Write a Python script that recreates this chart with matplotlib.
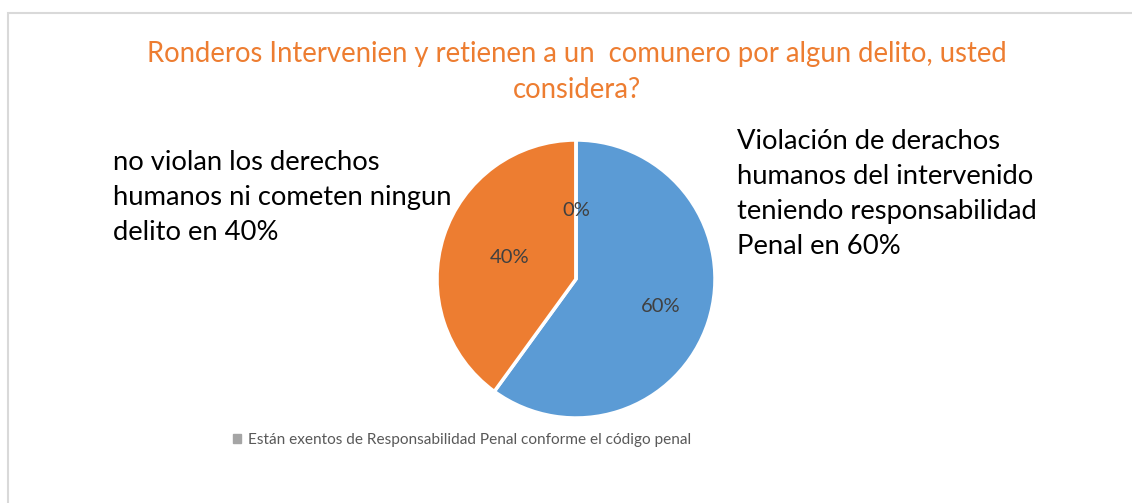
import numpy as np
import matplotlib.pyplot as plt
from matplotlib.patches import Rectangle, Patch

plt.rcParams['font.family'] = ['Lato', 'DejaVu Sans']

# datos del gráfico
categorias = ["Violación de derachos humanos del intervenido teniendo responsabilidad Penal",
              "no violan los derechos humanos ni cometen ningun delito",
              "Están exentos de Responsabilidad Penal conforme el código penal"]
porcentajes = [60, 40, 0]
colores = ["#5B9BD5", "#ED7D31", "#A5A5A5"]

titulo = "Ronderos Intervenien y retienen a un  comunero por algun delito, usted\nconsidera?"
texto_izq = "no violan los derechos\nhumanos ni cometen ningun\ndelito en 40%"
texto_der = "Violación de derachos\nhumanos del intervenido\nteniendo responsabilidad\nPenal en 60%"

W, H = 1132, 503
fig = plt.figure(figsize=(W / 100, H / 100), dpi=100)
ax = fig.add_axes([0, 0, 1, 1])
ax.set_xlim(0, W)
ax.set_ylim(0, H)
ax.axis("off")


def py(y):
    # coordenada y en pixeles desde arriba
    return H - y


# borde del área del gráfico
ax.add_patch(Rectangle((8, -20), W + 20, py(13) + 20, fill=False,
                       edgecolor="#D9D9D9", linewidth=1.5))

cx, cy, r = 576, py(279), 139
wedges, _, autotexts = ax.pie(porcentajes, colors=colores, startangle=90, counterclock=False,
                              center=(cx, cy), radius=r, autopct="%1.0f%%", pctdistance=0.6,
                              wedgeprops=dict(edgecolor="white", linewidth=2.5),
                              textprops=dict(color="#404040", fontsize=14.5))
ax.set_xlim(0, W)
ax.set_ylim(0, H)
ax.set_aspect("auto")

# distancia de etiquetas (ajuste tipo "best fit")
distancias = [0.64, 0.50, 0.49]
for w, t, d in zip(wedges, autotexts, distancias):
    ang = np.deg2rad((w.theta1 + w.theta2) / 2)
    t.set_position((cx + d * r * np.cos(ang), cy + d * r * np.sin(ang)))

ax.text(577, py(72), titulo, color="#ED7D31", fontsize=19.8, ha="center", va="center",
        linespacing=1.45)
ax.text(113, py(197), texto_izq, color="black", fontsize=19.7, ha="left", va="center",
        linespacing=1.5)
ax.text(737, py(194), texto_der, color="black", fontsize=19.7, ha="left", va="center",
        linespacing=1.5)

fig.legend(handles=[Patch(color=colores[2])], labels=[categorias[2]],
           loc="center", bbox_to_anchor=(462 / W, 1 - 440 / H), frameon=False,
           fontsize=11.1, labelcolor="#595959", handlelength=0.55, handleheight=0.55,
           handletextpad=0.45)

fig.savefig("out.png", dpi=100)
